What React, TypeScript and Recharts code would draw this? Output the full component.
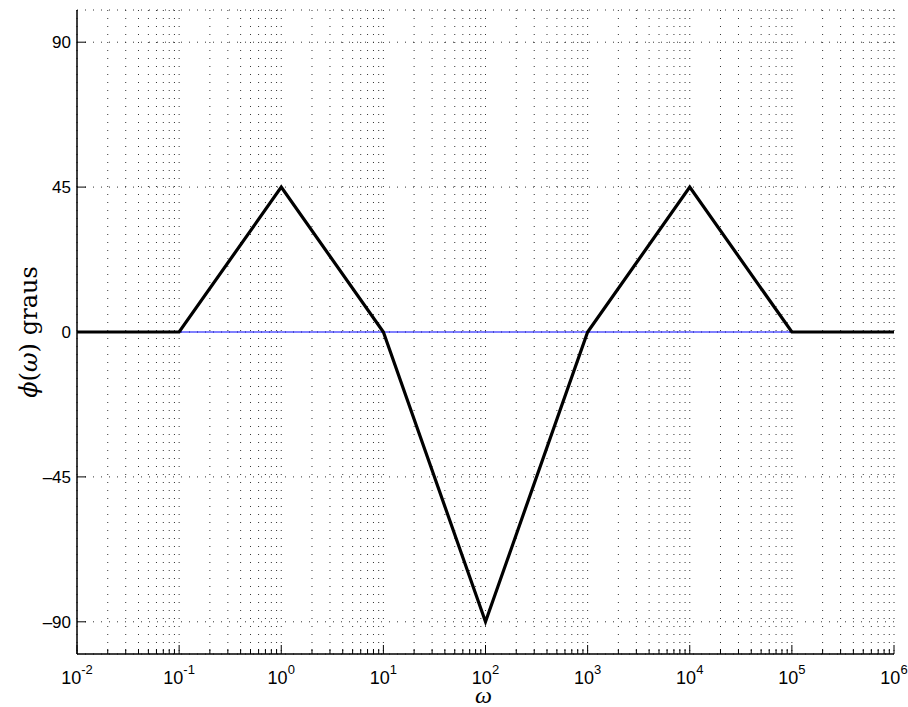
import { LineChart, Line, XAxis, YAxis, CartesianGrid } from 'recharts';

// frequências (rad/s) e fase assintótica em graus
const omega = [0.01, 0.1, 1, 10, 100, 1000, 1e4, 1e5, 1e6];
const phase = [0, 0, 45, 0, -90, 0, 45, 0, 0];
const zeroLine = [0, 0, 0, 0, 0, 0, 0, 0, 0];

const decades = [-2, -1, 0, 1, 2, 3, 4, 5, 6];
const minorMult = [2, 3, 4, 5, 6, 7, 8, 9];
const yTicks = [-90, -45, 0, 45, 90];

const xTicks: number[] = [];
decades.forEach((d, i) => {
  xTicks.push(Math.pow(10, d));
  if (i < decades.length - 1) minorMult.forEach((m) => xTicks.push(m * Math.pow(10, d)));
});

const data = omega.map((w, i) => ({ w, phase: phase[i], zero: zeroLine[i] }));

const isMajor = (v: number) => {
  const l = Math.log10(v);
  return Math.abs(l - Math.round(l)) < 1e-9;
};

const BottomTick = (props: any) => {
  const { x, y, payload } = props;
  const v = payload.value;
  const major = isMajor(v);
  const e = Math.round(Math.log10(v));
  return (
    <g>
      <line x1={x} x2={x} y1={y} y2={y - (major ? 9 : 5)} stroke="#000" strokeWidth={1} />
      {major && (
        <text x={x} y={y + 30} textAnchor="middle" fontSize={18} fill="#000">
          10
          <tspan dy={-10} fontSize={13}>{e < 0 ? `-${-e}` : `${e}`}</tspan>
        </text>
      )}
    </g>
  );
};

const TopTick = (props: any) => {
  const { x, y, payload } = props;
  const major = isMajor(payload.value);
  return <line x1={x} x2={x} y1={y} y2={y + (major ? 9 : 5)} stroke="#000" strokeWidth={1} />;
};

const LeftTick = (props: any) => {
  const { x, y, payload } = props;
  const v = payload.value;
  return (
    <g>
      <line x1={x} x2={x + 9} y1={y} y2={y} stroke="#000" strokeWidth={1} />
      <text x={x - 6} y={y + 6} textAnchor="end" fontSize={17} fill="#000">
        {v < 0 ? `–${-v}` : `${v}`}
      </text>
    </g>
  );
};

const RightTick = (props: any) => {
  const { x, y } = props;
  return <line x1={x} x2={x - 9} y1={y} y2={y} stroke="#000" strokeWidth={1} />;
};

const serif = '"DejaVu Serif", "Liberation Serif", serif';

export default function App() {
  return (
    <div style={{ position: 'absolute', left: 0, top: 0, width: 908, height: 707, background: '#fff' }}>
      <LineChart
        width={908}
        height={707}
        data={data}
        margin={{ top: 10, right: 14, bottom: 13, left: 17 }}
        style={{ fontFamily: '"Liberation Sans", Arial, sans-serif' }}
      >
        <CartesianGrid stroke="#333" strokeWidth={1} strokeDasharray="1 7" />
        <XAxis
          dataKey="w"
          type="number"
          scale="log"
          domain={[0.01, 1e6]}
          allowDataOverflow
          ticks={xTicks}
          interval={0}
          height={40}
          tickSize={0}
          tickMargin={0}
          tickLine={false}
          tick={<BottomTick />}
          axisLine={{ stroke: '#000', strokeWidth: 1.5 }}
          label={{
            content: (p: any) => {
              const vb = p.viewBox;
              return (
                <text x={vb.x + vb.width / 2 - 2} y={vb.y + 49} textAnchor="middle" fontSize={24} fontStyle="italic" fontFamily='"Liberation Serif", serif' fill="#000">
                  ω
                </text>
              );
            },
          }}
        />
        <XAxis
          xAxisId="top"
          dataKey="w"
          type="number"
          scale="log"
          orientation="top"
          domain={[0.01, 1e6]}
          allowDataOverflow
          ticks={xTicks}
          interval={0}
          height={0}
          tickSize={0}
          tickMargin={0}
          tickLine={false}
          tick={<TopTick />}
          axisLine={{ stroke: '#000', strokeWidth: 1.5 }}
        />
        <YAxis
          type="number"
          domain={[-100, 100]}
          ticks={yTicks}
          interval={0}
          width={60}
          tickSize={0}
          tickMargin={0}
          tickLine={false}
          tick={<LeftTick />}
          axisLine={{ stroke: '#000', strokeWidth: 1.5 }}
          label={{
            content: (p: any) => {
              const vb = p.viewBox;
              const cx = vb.x + 20;
              const cy = vb.y + vb.height / 2;
              return (
                <text x={cx} y={cy} transform={`rotate(-90 ${cx} ${cy})`} textAnchor="middle" fontSize={24} fontFamily={serif} fill="#000">
                  <tspan fontStyle="italic">ϕ</tspan>(<tspan fontStyle="italic">ω</tspan>)
                  <tspan dx={8}>graus</tspan>
                </text>
              );
            },
          }}
        />
        <YAxis
          yAxisId="right"
          orientation="right"
          type="number"
          domain={[-100, 100]}
          ticks={yTicks}
          interval={0}
          width={0}
          tickSize={0}
          tickMargin={0}
          tickLine={false}
          tick={<RightTick />}
          axisLine={{ stroke: '#000', strokeWidth: 1.5 }}
        />
        <Line dataKey="zero" stroke="#0000ff" strokeWidth={1} dot={false} isAnimationActive={false} />
        <Line dataKey="phase" stroke="#000" strokeWidth={3.2} dot={false} isAnimationActive={false} />
      </LineChart>
    </div>
  );
}
